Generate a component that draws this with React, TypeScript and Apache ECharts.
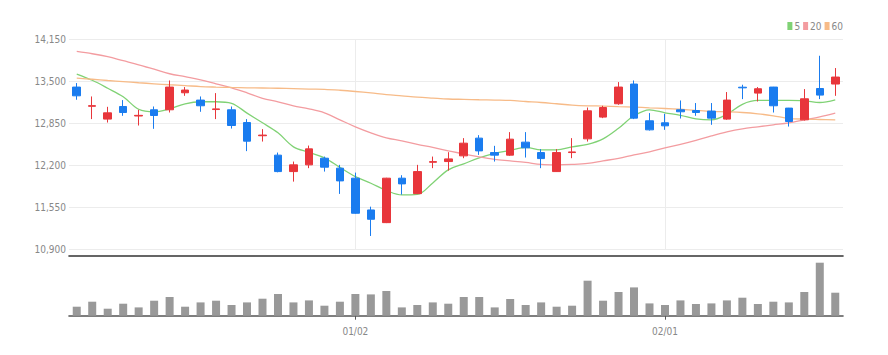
import React, { useEffect, useRef } from "react";
import * as echarts from "echarts";

const dates = [
  "12/06", "12/07", "12/08", "12/09", "12/12", "12/13", "12/14", "12/15", "12/16", "12/19",
  "12/20", "12/21", "12/22", "12/23", "12/26", "12/27", "12/28", "12/29", "01/02", "01/03",
  "01/04", "01/05", "01/06", "01/09", "01/10", "01/11", "01/12", "01/13", "01/16", "01/17",
  "01/18", "01/19", "01/20", "01/25", "01/26", "01/27", "01/30", "01/31", "02/01", "02/02",
  "02/03", "02/06", "02/07", "02/08", "02/09", "02/10", "02/13", "02/14", "02/15", "02/16",
];

const opens = [
  13407, 13110, 12912, 13107, 12960, 13056, 13056, 13319, 13206, 13060,
  13056, 12859, 12655, 12355, 12101, 12205, 12308, 12154, 11999, 11508,
  11312, 11999, 11760, 12245, 12256, 12344, 12618, 12395, 12355, 12556,
  12395, 12101, 12395, 12607, 12943, 13149, 13454, 12886, 12855, 13056,
  13045, 13036, 12912, 13405, 13314, 13407, 13082, 12901, 13385, 13454,
];
const closes = [
  13272, 13120, 13009, 13014, 12970, 12968, 13407, 13361, 13118, 13070,
  12813, 12571, 12665, 12101, 12205, 12452, 12169, 11957, 11457, 11364,
  11999, 11911, 12101, 12255, 12297, 12540, 12421, 12355, 12602, 12468,
  12302, 12395, 12405, 13040, 13091, 13407, 12927, 12746, 12808, 13025,
  13014, 12927, 13206, 13395, 13381, 13118, 12875, 13226, 13283, 13562,
];
const lows = [
  13211, 12912, 12859, 12963, 12813, 12762, 13014, 13272, 13025, 12912,
  12766, 12417, 12565, 12090, 11946, 12154, 12101, 11756, 11450, 11106,
  11305, 11745, 11755, 12154, 12116, 12308, 12359, 12256, 12344, 12318,
  12154, 12095, 12308, 12565, 12927, 13133, 12912, 12735, 12746, 12921,
  12963, 12824, 12901, 13221, 13184, 13014, 12797, 12890, 13221, 13272,
];
const highs = [
  13469, 13262, 13102, 13206, 13056, 13107, 13509, 13407, 13262, 13314,
  13107, 12912, 12757, 12395, 12256, 12503, 12333, 12205, 12085, 11559,
  12005, 12045, 12205, 12333, 12401, 12618, 12664, 12499, 12711, 12711,
  12448, 12448, 12618, 13091, 13118, 13484, 13509, 13005, 12994, 13200,
  13160, 13160, 13330, 13443, 13407, 13410, 13085, 13376, 13891, 13701,
];
const volumes = [
  45000, 70000, 35000, 60000, 41500, 75000, 93500, 45000, 66500, 75000,
  53500, 66500, 85000, 108500, 66500, 76500, 50000, 70000, 108500, 106500,
  123500, 41500, 53500, 66500, 60000, 93500, 93500, 41500, 83500, 53500,
  66500, 45000, 50000, 175000, 75000, 118500, 141500, 61500, 53500, 76500,
  58500, 61500, 76500, 90000, 58500, 70000, 66500, 118500, 265000, 115000,
];
const ma5 = [
  13608, 13512, 13389, 13257, 13064, 13025, 13071, 13149, 13180, 13180,
  13156, 13005, 12855, 12700, 12483, 12398, 12313, 12166, 12024, 11921,
  11810, 11740, 11748, 11926, 12127, 12220, 12313, 12383, 12429, 12475,
  12437, 12437, 12483, 12522, 12607, 12770, 12963, 13056, 13009, 12971,
  12917, 12901, 12986, 13141, 13200, 13200, 13200, 13195, 13169, 13211,
];
const ma20 = [
  13958, 13922, 13876, 13814, 13752, 13683, 13613, 13567, 13520, 13458,
  13396, 13319, 13234, 13180, 13118, 13071, 13009, 12901, 12793, 12700,
  12622, 12576, 12522, 12475, 12421, 12375, 12328, 12290, 12267, 12243,
  12212, 12205, 12212, 12228, 12267, 12305, 12359, 12406, 12468, 12522,
  12584, 12653, 12715, 12762, 12793, 12824, 12855, 12901, 12947, 13005,
];
const ma60 = [
  13546, 13528, 13509, 13492, 13474, 13458, 13443, 13430, 13415, 13407,
  13401, 13396, 13393, 13389, 13384, 13376, 13372, 13358, 13339, 13316,
  13291, 13272, 13252, 13237, 13223, 13217, 13211, 13206, 13200, 13184,
  13169, 13149, 13129, 13118, 13113, 13105, 13098, 13087, 13076, 13064,
  13048, 13033, 13025, 13014, 12994, 12963, 12924, 12912, 12906, 12901,
];
const maNames = ["5", "20", "60"];
const priceTicks = { min: 10900, max: 14150, step: 650 };
const monthStarts = ["01/02", "02/01"];

const UP = "#e8363b";
const DOWN = "#1a7cef";
const MA_COLORS = ["#80d275", "#f39ca0", "#f7bb88"];
const FONT = "'Liberation Sans Narrow', 'Arial Narrow', 'DejaVu Sans Condensed', sans-serif";

export default function App() {
  const ref = useRef<HTMLDivElement>(null);
  useEffect(() => {
    if (!ref.current) return;
    const chart = echarts.init(ref.current, undefined, { renderer: "svg" });
    const isMonthStart = (i: number) => monthStarts.indexOf(dates[i]) >= 0;
    const candleData = dates.map((_, i) => [opens[i], closes[i], lows[i], highs[i]]);
    const maData = [ma5, ma20, ma60];
    chart.setOption({
      animation: false,
      backgroundColor: "#fff",
      legend: {
        data: maNames,
        right: 45,
        top: 21,
        padding: 0,
        icon: "rect",
        itemWidth: 5,
        itemHeight: 8,
        itemGap: 3,
        textStyle: { fontSize: 10, color: "#888", fontFamily: FONT, padding: [0, 0, 0, -3] },
      },
      grid: [
        { left: 69, right: 45, top: 39, height: 210.3 },
        { left: 69, right: 45, top: 262.7, height: 53 },
      ],
      xAxis: [
        {
          type: "category",
          data: dates,
          gridIndex: 0,
          boundaryGap: true,
          offset: 6,
          axisLine: { show: true, lineStyle: { color: "#333", width: 1.6 } },
          axisTick: { show: false },
          axisLabel: { show: false },
          splitLine: { show: false },
        },
        {
          type: "category",
          data: dates,
          gridIndex: 1,
          boundaryGap: true,
          axisLine: { show: true, lineStyle: { color: "#555", width: 1.6 } },
          axisTick: {
            show: true,
            alignWithLabel: true,
            interval: (i: number) => isMonthStart(i),
            length: 4,
            lineStyle: { color: "#555" },
          },
          axisLabel: {
            show: true,
            interval: (i: number) => isMonthStart(i),
            fontSize: 10,
            color: "#888",
            fontFamily: FONT,
            margin: 11,
          },
          splitLine: { show: false },
        },
      ],
      yAxis: [
        {
          type: "value",
          gridIndex: 0,
          min: priceTicks.min,
          max: priceTicks.max,
          interval: priceTicks.step,
          axisLine: { show: false },
          axisTick: { show: false },
          axisLabel: {
            fontSize: 10,
            color: "#888",
            fontFamily: FONT,
            margin: 3,
            formatter: (v: number) => v.toLocaleString("en-US"),
          },
          splitLine: { lineStyle: { color: "#ececec", width: 1 } },
        },
        {
          type: "value",
          gridIndex: 1,
          min: 0,
          max: 265000,
          show: false,
          splitLine: { show: false },
        },
      ],
      series: [
        ...maNames.map((name, k) => ({
          name,
          type: "line",
          xAxisIndex: 0,
          yAxisIndex: 0,
          data: maData[k],
          smooth: 0.35,
          showSymbol: false,
          symbol: "none",
          z: 2,
          itemStyle: { color: MA_COLORS[k] },
          lineStyle: { color: MA_COLORS[k], width: 1.3 },
        })),
        {
          name: "price",
          type: "candlestick",
          xAxisIndex: 0,
          yAxisIndex: 0,
          data: candleData,
          barWidth: 8,
          z: 3,
          itemStyle: {
            color: UP,
            color0: DOWN,
            borderColor: UP,
            borderColor0: DOWN,
            borderWidth: 1,
          },
          markLine: {
            silent: true,
            symbol: "none",
            label: { show: false },
            z: 1,
            lineStyle: { color: "#ececec", width: 1, type: "solid" },
            data: monthStarts.map((d) => ({ xAxis: d })),
          },
        },
        {
          name: "volume",
          type: "bar",
          xAxisIndex: 1,
          yAxisIndex: 1,
          data: volumes,
          barWidth: 8,
          itemStyle: { color: "#999" },
        },
      ],
    });
    return () => chart.dispose();
  }, []);
  return (
    <div
      ref={ref}
      style={{ position: "fixed", left: 0, top: 0, width: 888, height: 355, background: "#fff" }}
    />
  );
}
